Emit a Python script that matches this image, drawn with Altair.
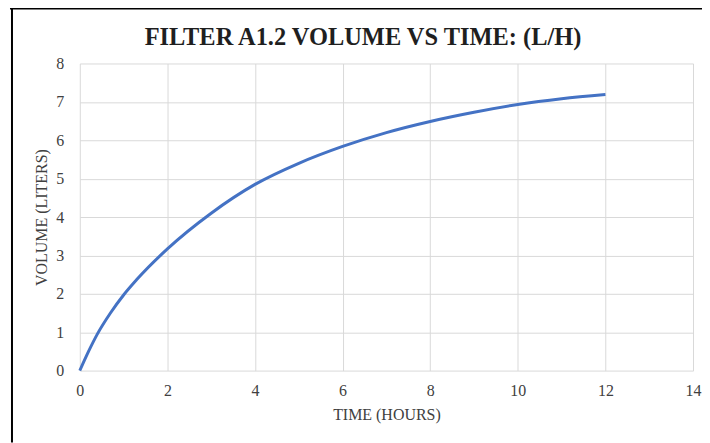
import altair as alt
import pandas as pd

# Data
time_hours = [0, 0.2, 0.4, 0.7, 1, 1.3, 2, 3, 4, 5, 6, 7, 8, 9, 10, 11, 12]
volume_liters = [0, 0.5, 0.95, 1.5, 1.97, 2.37, 3.17, 4.1, 4.85, 5.4, 5.84, 6.2, 6.49, 6.73, 6.93, 7.08, 7.19]
x_ticks = [0, 2, 4, 6, 8, 10, 12, 14]
y_ticks = [0, 1, 2, 3, 4, 5, 6, 7, 8]
title_text = ["FILTER A1.2 VOLUME VS TIME: (L/H)"]

df = pd.DataFrame({"t": time_hours, "v": volume_liters})
df_title = pd.DataFrame({"label": title_text})
FONT = "Liberation Serif"

line = alt.Chart(df).mark_line(color="#4472C4", strokeWidth=3, interpolate="monotone").encode(
    x=alt.X("t:Q", scale=alt.Scale(domain=[0, 14], nice=False),
            axis=alt.Axis(values=x_ticks, title="TIME (HOURS)", grid=True, gridColor="#d9d9d9",
                          domain=False, ticks=False, labelPadding=12, titlePadding=8,
                          labelFlush=False,
                          labelFont=FONT, labelFontSize=16, labelColor="#404040",
                          titleFont=FONT, titleFontSize=16, titleFontWeight="normal",
                          titleColor="#404040")),
    y=alt.Y("v:Q", scale=alt.Scale(domain=[0, 8], nice=False),
            axis=alt.Axis(values=y_ticks, title="VOLUME (LITERS)", grid=True, gridColor="#d9d9d9",
                          domain=False, ticks=False, labelPadding=16, titlePadding=6,
                          labelFlush=False,
                          labelFont=FONT, labelFontSize=16, labelColor="#404040",
                          titleFont=FONT, titleFontSize=16, titleFontWeight="normal",
                          titleColor="#404040")),
)

title = alt.Chart(df_title).mark_text(
    font=FONT, fontSize=24.5, fontWeight="bold", color="#1f1f1f",
    align="center", baseline="alphabetic"
).encode(text="label:N", x=alt.value(284), y=alt.value(-19))

border_top = alt.Chart(df_title).mark_rule(color="black", strokeWidth=2).encode(
    x=alt.value(-70), x2=alt.value(624), y=alt.value(-55)
)
border_left = alt.Chart(df_title).mark_rule(color="black", strokeWidth=2).encode(
    x=alt.value(-68), y=alt.value(-55), y2=alt.value(380)
)

chart = alt.layer(line, title, border_top, border_left).properties(
    width=615, height=308,
    autosize=alt.AutoSizeParams(type="none"),
    padding={"left": 72, "top": 55, "right": 9, "bottom": 72},
).configure_view(stroke=None)

chart.save("out.html", embed_options={"renderer": "svg", "actions": False})
